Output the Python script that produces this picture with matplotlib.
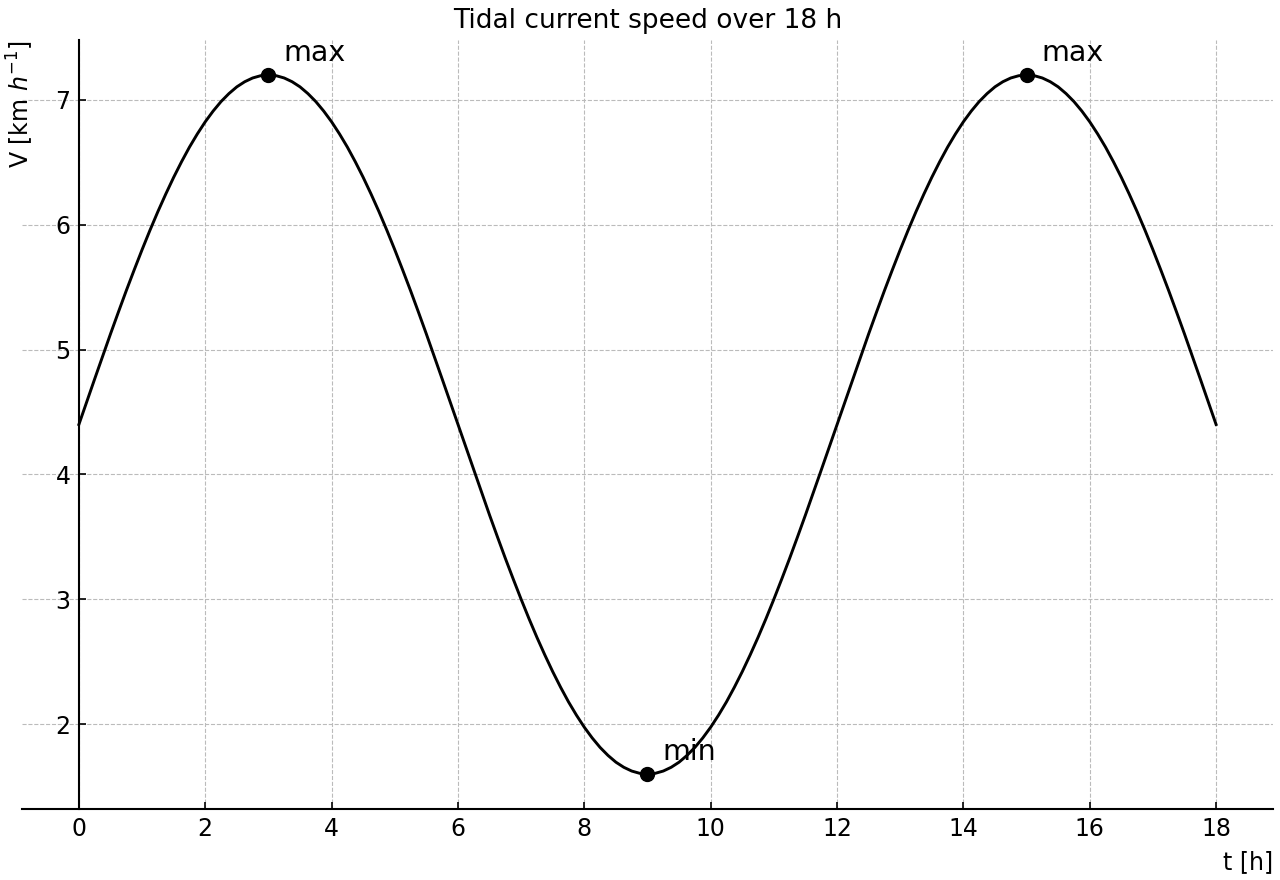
import matplotlib
matplotlib.use("Agg")
import matplotlib.pyplot as plt

# time in hours (0.125 h steps) and tidal current speed [km/h]
t_hours = [i * 0.125 for i in range(145)]
speed = [
    # 0 – 3 h
    4.400, 4.583, 4.765, 4.946, 5.125, 5.300, 5.472, 5.638, 5.800, 5.956, 6.105, 6.246,
    6.380, 6.505, 6.622, 6.728, 6.825, 6.911, 6.987, 7.051, 7.105, 7.146, 7.176, 7.194, 7.200,
    # 3 – 6 h
    7.194, 7.176, 7.146, 7.105, 7.051, 6.987, 6.911, 6.825, 6.728, 6.622, 6.505, 6.380,
    6.246, 6.105, 5.956, 5.800, 5.638, 5.472, 5.300, 5.125, 4.946, 4.765, 4.583, 4.400,
    # 6 – 9 h
    4.217, 4.035, 3.854, 3.675, 3.500, 3.328, 3.162, 3.000, 2.844, 2.695, 2.554, 2.420,
    2.295, 2.178, 2.072, 1.975, 1.889, 1.813, 1.749, 1.695, 1.654, 1.624, 1.606, 1.600,
    # 9 – 12 h
    1.606, 1.624, 1.654, 1.695, 1.749, 1.813, 1.889, 1.975, 2.072, 2.178, 2.295, 2.420,
    2.554, 2.695, 2.844, 3.000, 3.162, 3.328, 3.500, 3.675, 3.854, 4.035, 4.217, 4.400,
    # 12 – 15 h
    4.583, 4.765, 4.946, 5.125, 5.300, 5.472, 5.638, 5.800, 5.956, 6.105, 6.246, 6.380,
    6.505, 6.622, 6.728, 6.825, 6.911, 6.987, 7.051, 7.105, 7.146, 7.176, 7.194, 7.200,
    # 15 – 18 h
    7.194, 7.176, 7.146, 7.105, 7.051, 6.987, 6.911, 6.825, 6.728, 6.622, 6.505, 6.380,
    6.246, 6.105, 5.956, 5.800, 5.638, 5.472, 5.300, 5.125, 4.946, 4.765, 4.583, 4.400,
]
extreme_t = [3, 9, 15]
extreme_v = [7.2, 1.6, 7.2]
extreme_labels = ["max", "min", "max"]

fig = plt.figure(figsize=(12.8, 8.8), dpi=100)
ax = fig.add_axes([0.0172, 0.0807, 0.9773, 0.8738])

ax.plot(t_hours, speed, color="black", lw=2.1)
ax.plot(extreme_t, extreme_v, "o", color="black", ms=10, zorder=3)
for x, y, lab in zip(extreme_t, extreme_v, extreme_labels):
    ax.annotate(lab, (x, y), xytext=(11, 6), textcoords="offset points",
                fontsize=20.5, ha="left", va="bottom")

ax.set_xticks(range(0, 19, 2))
ax.spines["left"].set_position(("data", 0))
ax.spines["right"].set_visible(False)
ax.spines["top"].set_visible(False)
ax.spines["left"].set_linewidth(1.5)
ax.spines["bottom"].set_linewidth(1.5)
ax.tick_params(direction="in", length=5, width=1.2, labelsize=17, pad=6)
ax.grid(True, linestyle="--", color="#bbbbbb", linewidth=0.8)
ax.set_axisbelow(True)

ax.set_title("Tidal current speed over 18 h", fontsize=19, pad=9)
ax.set_xlabel("t [h]", fontsize=17, loc="right", labelpad=6)
ax.set_ylabel(r"V [km $h^{-1}$]", fontsize=17, loc="top")
ax.yaxis.set_label_coords(0.011, 1.0)

fig.savefig("out.png", dpi=100)
